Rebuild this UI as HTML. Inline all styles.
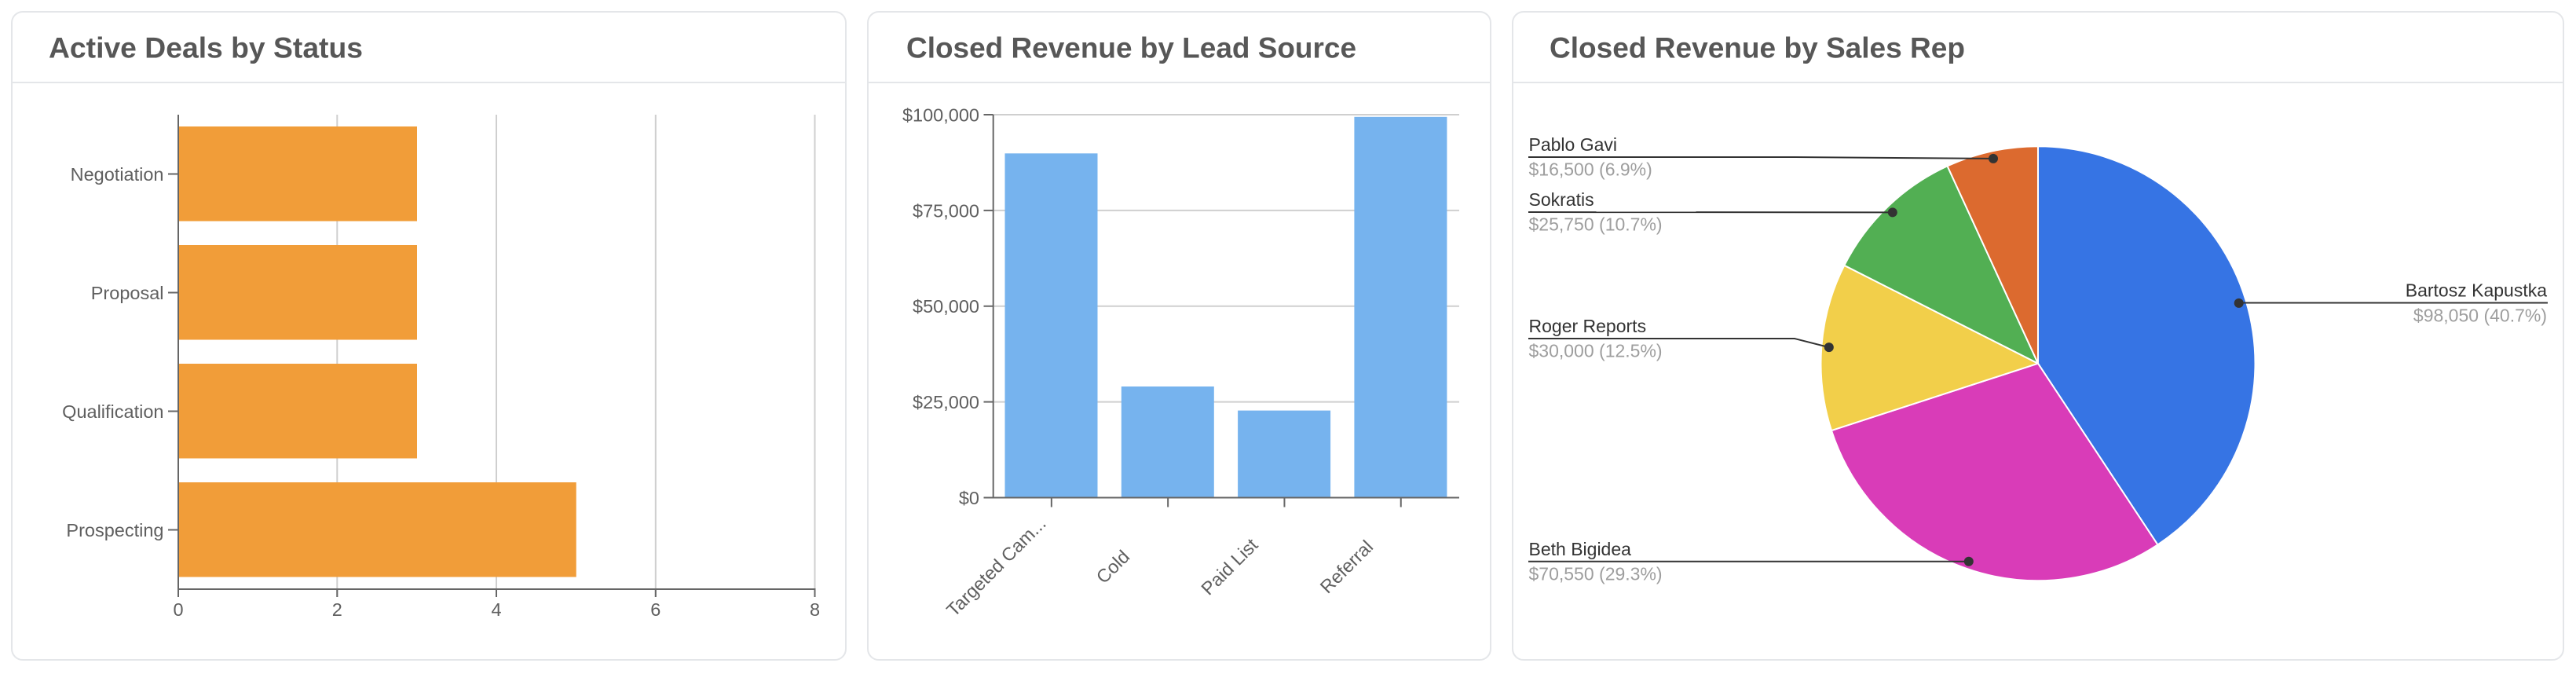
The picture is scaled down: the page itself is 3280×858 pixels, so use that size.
<!DOCTYPE html>
<html><head><meta charset="utf-8">
<style>
html,body{margin:0;padding:0;background:#fff;}
svg{display:block;}
text{font-family:"Liberation Sans",Arial,sans-serif;}
.t{font-size:37px;font-weight:bold;fill:#575757;}
.ax{font-size:23.5px;fill:#5f5f5f;}
.nm{font-size:23px;fill:#333;}
.vl{font-size:23px;fill:#9e9e9e;}
</style></head>
<body>
<svg width="3280" height="858" viewBox="0 0 3280 858" xmlns="http://www.w3.org/2000/svg">
<rect x="0" y="0" width="3280" height="858" fill="#fff"/>
<!-- Cards -->
<rect x="15" y="15" width="1062" height="825" rx="14" fill="#fff" stroke="#e4e6e9" stroke-width="2"/>
<line x1="15" y1="105" x2="1077" y2="105" stroke="#e4e6e9" stroke-width="2"/>
<rect x="1105" y="15" width="793" height="825" rx="14" fill="#fff" stroke="#e4e6e9" stroke-width="2"/>
<line x1="1105" y1="105" x2="1898" y2="105" stroke="#e4e6e9" stroke-width="2"/>
<rect x="1926" y="15" width="1338" height="825" rx="14" fill="#fff" stroke="#e4e6e9" stroke-width="2"/>
<line x1="1926" y1="105" x2="3264" y2="105" stroke="#e4e6e9" stroke-width="2"/>

<!-- Titles -->
<text class="t" x="62" y="73.5" textLength="400" lengthAdjust="spacingAndGlyphs">Active Deals by Status</text>
<text class="t" x="1154" y="73.5" textLength="573" lengthAdjust="spacingAndGlyphs">Closed Revenue by Lead Source</text>
<text class="t" x="1973" y="73.5" textLength="529" lengthAdjust="spacingAndGlyphs">Closed Revenue by Sales Rep</text>

<!-- Chart 1 -->
<g stroke="#cfcfcf" stroke-width="2">
<line x1="429.3" y1="146" x2="429.3" y2="760"/>
<line x1="632" y1="146" x2="632" y2="760"/>
<line x1="834.8" y1="146" x2="834.8" y2="760"/>
<line x1="1037.5" y1="146" x2="1037.5" y2="760"/>
</g>
<g fill="#f19d39">
<rect x="227" y="161" width="304" height="120.5"/>
<rect x="227" y="312" width="304" height="120.5"/>
<rect x="227" y="463" width="304" height="120.5"/>
<rect x="227" y="614" width="506.7" height="120.5"/>
</g>
<g stroke="#666" stroke-width="2">
<line x1="227" y1="146" x2="227" y2="760"/>
<line x1="226" y1="750" x2="1038.5" y2="750"/>
<line x1="429.3" y1="750" x2="429.3" y2="760"/>
<line x1="632" y1="750" x2="632" y2="760"/>
<line x1="834.8" y1="750" x2="834.8" y2="760"/>
<line x1="1037.5" y1="750" x2="1037.5" y2="760"/>
<line x1="214" y1="221.5" x2="227" y2="221.5"/>
<line x1="214" y1="372.5" x2="227" y2="372.5"/>
<line x1="214" y1="523.5" x2="227" y2="523.5"/>
<line x1="214" y1="674.5" x2="227" y2="674.5"/>
</g>
<g class="ax" text-anchor="end">
<text class="ax" x="208.5" y="230">Negotiation</text>
<text class="ax" x="208.5" y="381">Proposal</text>
<text class="ax" x="208.5" y="532">Qualification</text>
<text class="ax" x="208.5" y="683">Prospecting</text>
</g>
<g text-anchor="middle">
<text class="ax" x="227" y="784">0</text>
<text class="ax" x="429.3" y="784">2</text>
<text class="ax" x="632" y="784">4</text>
<text class="ax" x="834.8" y="784">6</text>
<text class="ax" x="1037.5" y="784">8</text>
</g>

<!-- Chart 2 -->
<g stroke="#cfcfcf" stroke-width="2">
<line x1="1265" y1="146" x2="1858" y2="146"/>
<line x1="1265" y1="267.9" x2="1858" y2="267.9"/>
<line x1="1265" y1="389.75" x2="1858" y2="389.75"/>
<line x1="1265" y1="511.6" x2="1858" y2="511.6"/>
</g>
<g fill="#76b3ee">
<rect x="1279.5" y="195.3" width="118" height="438.2"/>
<rect x="1427.8" y="492" width="118" height="141.5"/>
<rect x="1576.1" y="522.6" width="118" height="110.9"/>
<rect x="1724.4" y="148.8" width="118" height="484.7"/>
</g>
<g stroke="#666" stroke-width="2">
<line x1="1264.7" y1="146" x2="1264.7" y2="634.5"/>
<line x1="1264" y1="633.5" x2="1858" y2="633.5"/>
<line x1="1252.5" y1="146" x2="1264.7" y2="146"/>
<line x1="1252.5" y1="267.9" x2="1264.7" y2="267.9"/>
<line x1="1252.5" y1="389.75" x2="1264.7" y2="389.75"/>
<line x1="1252.5" y1="511.6" x2="1264.7" y2="511.6"/>
<line x1="1252.5" y1="633.5" x2="1264.7" y2="633.5"/>
<line x1="1338.85" y1="633.5" x2="1338.85" y2="645.5"/>
<line x1="1487.15" y1="633.5" x2="1487.15" y2="645.5"/>
<line x1="1635.45" y1="633.5" x2="1635.45" y2="645.5"/>
<line x1="1783.75" y1="633.5" x2="1783.75" y2="645.5"/>
</g>
<g text-anchor="end">
<text class="ax" x="1247" y="154.5">$100,000</text>
<text class="ax" x="1247" y="276.4">$75,000</text>
<text class="ax" x="1247" y="398.2">$50,000</text>
<text class="ax" x="1247" y="520.1">$25,000</text>
<text class="ax" x="1247" y="642">$0</text>
</g>
<g text-anchor="middle" dominant-baseline="central">
<text class="ax" x="1268.5" y="721.5" transform="rotate(-45 1268.5 721.5)" dominant-baseline="central">Targeted Cam...</text>
<text class="ax" x="1417" y="721.5" transform="rotate(-45 1417 721.5)" dominant-baseline="central">Cold</text>
<text class="ax" x="1565.5" y="721.5" transform="rotate(-45 1565.5 721.5)" dominant-baseline="central">Paid List</text>
<text class="ax" x="1714.5" y="721.5" transform="rotate(-45 1714.5 721.5)" dominant-baseline="central">Referral</text>
</g>

<!-- Chart 3 pie -->
<g stroke="#fff" stroke-width="2" stroke-linejoin="round">
<path d="M2595,462.7 L2595,186.2 A276.5,276.5 0 0 1 2747.4,693.4 Z" fill="#3674e4"/>
<path d="M2595,462.7 L2747.4,693.4 A276.5,276.5 0 0 1 2332.0,548.1 Z" fill="#d93cb8"/>
<path d="M2595,462.7 L2332.0,548.1 A276.5,276.5 0 0 1 2348.3,337.8 Z" fill="#f2cf4a"/>
<path d="M2595,462.7 L2348.3,337.8 A276.5,276.5 0 0 1 2479.6,211.4 Z" fill="#52af53"/>
<path d="M2595,462.7 L2479.6,211.4 A276.5,276.5 0 0 1 2595,186.2 Z" fill="#dc6a2f"/>
</g>
<g stroke="#333" stroke-width="2" fill="none">
<polyline points="1946,200 2286,200 2538,201.9"/>
<polyline points="1946,270 2409.8,270.4"/>
<polyline points="1946,431 2285,431 2328.8,442.1"/>
<polyline points="1946,714.7 2506.8,714.7"/>
<polyline points="2850.7,385.5 3244,385.5"/>
</g>
<g fill="#333">
<circle cx="2538" cy="201.9" r="6"/>
<circle cx="2409.8" cy="270.4" r="6"/>
<circle cx="2328.8" cy="442.1" r="6"/>
<circle cx="2506.8" cy="714.7" r="6"/>
<circle cx="2850.7" cy="385.9" r="6"/>
</g>
<text class="nm" x="1946.5" y="192">Pablo Gavi</text>
<text class="vl" x="1946.5" y="223.5">$16,500 (6.9%)</text>
<text class="nm" x="1946.5" y="262">Sokratis</text>
<text class="vl" x="1946.5" y="293.5">$25,750 (10.7%)</text>
<text class="nm" x="1946.5" y="423">Roger Reports</text>
<text class="vl" x="1946.5" y="454.5">$30,000 (12.5%)</text>
<text class="nm" x="1946.5" y="707">Beth Bigidea</text>
<text class="vl" x="1946.5" y="738.5">$70,550 (29.3%)</text>
<text class="nm" x="3243" y="377.7" text-anchor="end">Bartosz Kapustka</text>
<text class="vl" x="3243" y="409.3" text-anchor="end">$98,050 (40.7%)</text>
</svg>
</body></html>
